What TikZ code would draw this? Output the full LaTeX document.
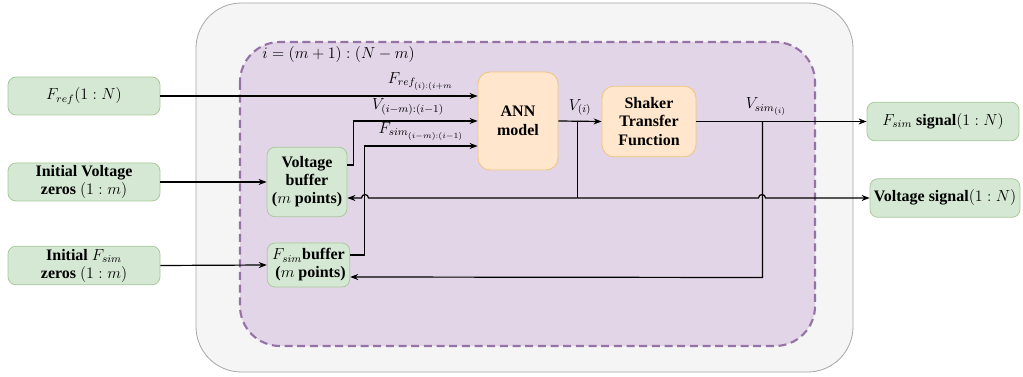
\documentclass[tikz,border=0pt]{standalone}
\usepackage{fontspec}
\setmainfont{Liberation Serif}[BoldFont={Liberation Serif Bold}, ItalicFont={Liberation Serif Italic}]
\usetikzlibrary{arrows.meta,calc}
\definecolor{greenfill}{HTML}{D5E8D4}
\definecolor{greenedge}{HTML}{A9C99A}
\definecolor{orangefill}{HTML}{FFE6CC}
\definecolor{orangeedge}{HTML}{F2C47C}
\definecolor{purplefill}{HTML}{E1D5E7}
\definecolor{purpleedge}{HTML}{9673A6}
\definecolor{greyfill}{HTML}{F5F5F5}
\definecolor{greyedge}{HTML}{A6A6A6}
\tikzset{
  greenbox/.style={draw=greenedge, fill=greenfill, line width=0.6pt, rounded corners=6pt,
    align=center, font=\fontsize{12}{13.5}\selectfont\bfseries, inner sep=1pt},
  orangebox/.style={draw=orangeedge, fill=orangefill, line width=0.6pt, rounded corners=9pt,
    align=center, font=\fontsize{12}{14}\selectfont\bfseries, inner sep=1pt},
  wire/.style={line width=0.9pt, black},
  arr/.style={wire, -{Stealth[length=6pt,width=4.5pt]}},
  lbl/.style={font=\fontsize{12}{14}\selectfont, inner sep=0pt},
}
\begin{document}
\begin{tikzpicture}[x=0.75pt,y=-0.75pt]
\useasboundingbox (0,0) rectangle (1023,377);

% frames
\draw[fill=greyfill, draw=greyedge, line width=0.6pt, rounded corners=34pt]
  (196,3) rectangle (853,372);
\draw[fill=purplefill, draw=purpleedge, line width=1.6pt, dash pattern=on 6pt off 3.5pt,
  rounded corners=30pt] (240,42) rectangle (815,346);
\node[lbl, anchor=west] (loop) at (262,55) {$i=(m+1):(N-m)$};

% inputs
\node[greenbox, minimum width=114pt, minimum height=28.5pt] (fref) at (84,96)
  {\mdseries$F_{ref}(1:N)$};
\node[greenbox, minimum width=114pt, minimum height=28.5pt] (initv) at (84,182)
  {Initial Voltage\\zeros $(1:m)$};
\node[greenbox, minimum width=114pt, minimum height=29pt] (initf) at (84,265.5)
  {Initial $F_{sim}$\\zeros $(1:m)$};

% buffers
\node[greenbox, minimum width=60pt, minimum height=52pt] (vbuf) at (307,182)
  {Voltage\\buffer\\($m$ points)};
\node[greenbox, minimum width=62pt, minimum height=33pt] (fbuf) at (308.5,265)
  {$F_{sim}$buffer\\\ ($m$ points)};

% processing blocks
\node[orangebox, minimum width=60pt, minimum height=73.5pt] (ann) at (518,121)
  {ANN\\model};
\node[orangebox, minimum width=70.5pt, minimum height=53pt] (stf) at (649,121.5)
  {Shaker\\Transfer\\Function};

% outputs
\node[greenbox, minimum width=114pt, minimum height=29pt] (fsig) at (943,121.5)
  {$F_{sim}$ signal$(1:N)$};
\node[greenbox, minimum width=112.5pt, minimum height=29pt] (vsig) at (945,198)
  {Voltage signal$(1:N)$};

% junction points
\coordinate (vj) at ($(ann.east)+(19,0)$);
\coordinate (vjd) at ($(vj)+(0,77)$);
\coordinate (sj) at ($(stf.east)+(66,0)$);
\coordinate (sjd) at ($(sj)+(0,156)$);

% feeds into the buffers and the network
\draw[arr] (initv.east) -- (vbuf.west);
\draw[arr] (initf.east) -- (fbuf.west);
\draw[arr] (fref.east) -- node[lbl, above=4pt, pos=0.82] {$F_{ref_{(i):(i+m}}$} ($(ann.west)+(0,-25)$);
\draw[arr] ($(vbuf.east)+(0,-17)$) -- ++(6,0) |- node[lbl, above=4pt, pos=0.72] {$V_{(i-m):(i-1)}$} (ann.west);
\draw[arr] ($(fbuf.east)+(0,-10)$) -- ++(14.5,0) |- node[lbl, above=4pt, pos=0.75] {$F_{sim_{(i-m):(i-1)}}$} ($(ann.west)+(0,25)$);

% network output
\draw[arr] (ann.east) -- node[lbl, above=4pt, pos=0.5] {$V_{(i)}$} (stf.west);
\draw[arr] (stf.east) -- node[lbl, above=4pt, pos=0.41] {$V_{sim_{(i)}}$} (fsig.west);

% voltage feedback and voltage output
\draw[wire] (vj) -- (vjd);
\draw[arr] (vjd) -- (368.5,198) arc[start angle=0, end angle=-180, radius=3.5] -- ($(vbuf.east)+(0,16)$);
\draw[arr] (vjd) -- (758.5,198) arc[start angle=180, end angle=360, radius=3.5] -- (vsig.west);

% force feedback
\draw[arr] (sj) -- (sjd) -- ($(fbuf.east)+(0,12)$);
\end{tikzpicture}
\end{document}
